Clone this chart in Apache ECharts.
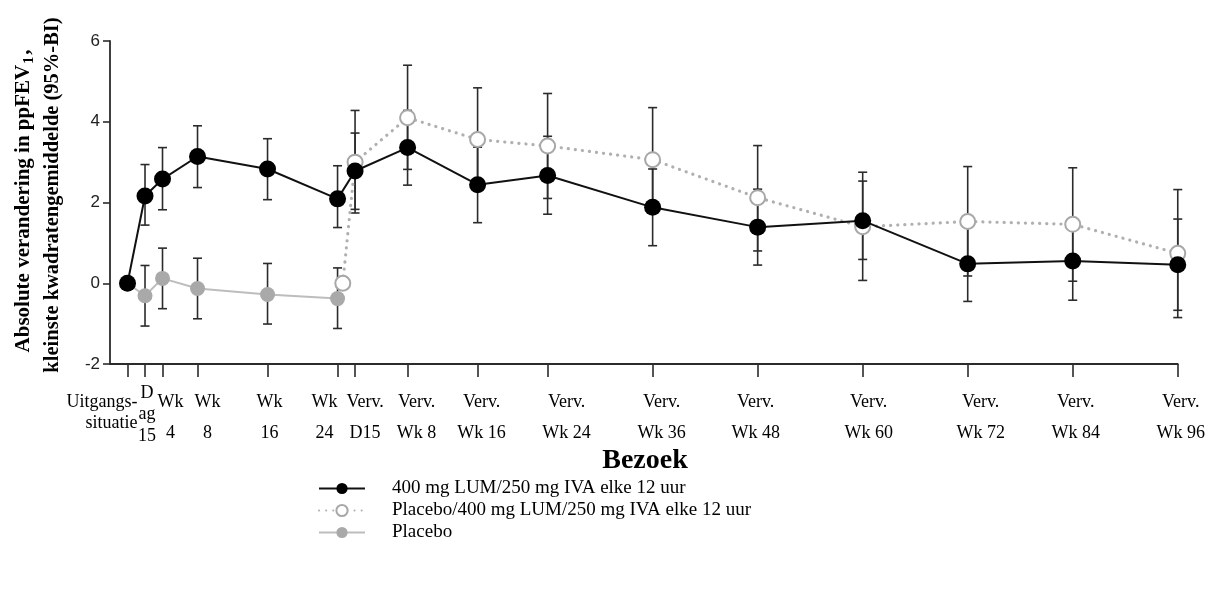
<!DOCTYPE html>
<html>
<head>
<meta charset="utf-8">
<script src="https://cdn.jsdelivr.net/npm/echarts@6/dist/echarts.min.js"></script>
<style>html,body{margin:0;padding:0;background:#fff;}#c{width:1208px;height:612px;}</style>
</head>
<body>
<div id="c"></div>
<script>
// Visit positions on the time axis (weeks since baseline)
const weeks = [0, 2, 4, 8, 16, 24, 26, 32, 40, 48, 60, 72, 84, 96, 108, 120];
const tickLabels = ['Uitgangs-\nsituatie', 'D\nag\n15', 'Wk\n4', 'Wk\n8', 'Wk\n16', 'Wk\n24',
  'Verv.\nD15', 'Verv.\nWk 8', 'Verv.\nWk 16', 'Verv.\nWk 24', 'Verv.\nWk 36', 'Verv.\nWk 48',
  'Verv.\nWk 60', 'Verv.\nWk 72', 'Verv.\nWk 84', 'Verv.\nWk 96'];
const yTicks = [-2, 0, 2, 4, 6];

const seriesNames = ['400 mg LUM/250 mg IVA elke 12 uur', 'Placebo/400 mg LUM/250 mg IVA elke 12 uur', 'Placebo'];

// 400 mg LUM/250 mg IVA
const lumMean = [0, 2.16, 2.58, 3.14, 2.83, 2.09, 2.78, 3.36, 2.44, 2.67, 1.88, 1.39, 1.55, 0.48, 0.55, 0.46];
const lumLow  = [null, 1.44, 1.82, 2.37, 2.07, 1.38, 1.83, 2.43, 1.50, 1.71, 0.93, 0.45, 0.59, -0.45, -0.42, -0.67];
const lumHigh = [null, 2.94, 3.36, 3.90, 3.58, 2.91, 3.72, 4.28, 3.37, 3.64, 2.83, 2.33, 2.53, 1.39, 1.44, 1.59];

// Placebo -> 400 mg LUM/250 mg IVA (extension); first point re-baselined at Wk 24
const switchWeeks = [24.6, 26, 32, 40, 48, 60, 72, 84, 96, 108, 120];
const switchMean = [0, 3.00, 4.10, 3.56, 3.40, 3.06, 2.12, 1.40, 1.53, 1.46, 0.74];
const switchLow  = [null, 1.74, 2.82, 2.28, 2.10, 1.77, 0.80, 0.07, 0.18, 0.05, -0.85];
const switchHigh = [null, 4.28, 5.40, 4.84, 4.70, 4.35, 3.41, 2.75, 2.89, 2.86, 2.32];

// Placebo
const plcMean = [0, -0.31, 0.12, -0.13, -0.28, -0.38];
const plcLow  = [null, -1.06, -0.63, -0.88, -1.01, -1.12];
const plcHigh = [null, 0.44, 0.87, 0.62, 0.49, 0.38];

// ---- styling (not data) ----
const SERIF = '"Liberation Serif", "Times New Roman", serif';
const SANS = '"Liberation Sans", Arial, sans-serif';
// horizontal nudge (px) of each tick label relative to its tick, as in the original layout
const labelNudge = [0, 2, 8, 10, 2, -13, 10, 9, 4, 19, 9, -2, 6, 13, 3, 3];

function pts(xs, ys) { return ys.map((v, i) => [xs[i], v]); }
function errs(xs, lo, hi) {
  const out = [];
  lo.forEach((l, i) => { if (l !== null && hi[i] !== null) out.push([xs[i], l, hi[i]]); });
  return out;
}
function errSeries(data, z) {
  return {
    type: 'custom', data: data, z: z, silent: true, legendHoverLink: false,
    encode: { x: 0, y: [1, 2] },
    renderItem: function (params, api) {
      const x = api.value(0);
      const lo = api.coord([x, api.value(1)]);
      const hi = api.coord([x, api.value(2)]);
      const w = 4.5;
      const st = { stroke: '#2b2b2b', lineWidth: 1.6, fill: null };
      return {
        type: 'group', children: [
          { type: 'line', shape: { x1: lo[0], y1: lo[1], x2: hi[0], y2: hi[1] }, style: st },
          { type: 'line', shape: { x1: lo[0] - w, y1: lo[1], x2: lo[0] + w, y2: lo[1] }, style: st },
          { type: 'line', shape: { x1: hi[0] - w, y1: hi[1], x2: hi[0] + w, y2: hi[1] }, style: st }
        ]
      };
    }
  };
}

const labelStyle = { fontFamily: SERIF, fontSize: 18, color: '#000' };
// build rich styles per label (line heights + nudges)
const rich = {};
tickLabels.forEach((t, i) => {
  const lines = t.split('\n');
  const lh = i === 0 ? [31, 10] : (lines.length === 3 ? [12, 30, 14] : [31, 31]);
  const n = labelNudge[i];
  lines.forEach((ln, j) => {
    let pad;
    if (i === 0) pad = [0, 51, 0, 0];
    else pad = n >= 0 ? [0, 0, 0, 2 * n] : [0, -2 * n, 0, 0];
    rich['t' + i + '_' + j] = Object.assign({ lineHeight: lh[j], padding: pad, align: i === 0 ? 'right' : 'center' }, labelStyle);
  });
});
function fmt(v) {
  const i = weeks.indexOf(v);
  if (i < 0) return ' ';
  return tickLabels[i].split('\n').map((ln, j) => '{t' + i + '_' + j + '|' + ln + '}').join('\n');
}

const axisCommon = {
  type: 'value', min: -2, max: 120, gridIndex: 0, position: 'bottom',
  splitLine: { show: false }
};

const chart = echarts.init(document.getElementById('c'), null, { renderer: 'canvas' });
chart.setOption({
  animation: false,
  backgroundColor: '#fff',
  grid: { left: 110, right: 28, top: 41, bottom: 248, containLabel: false },
  xAxis: [
    Object.assign({}, axisCommon, {
      axisLine: { show: true, onZero: false, lineStyle: { color: '#2b2b2b', width: 1.8 } },
      axisTick: { show: true, length: 13, customValues: weeks, lineStyle: { color: '#2b2b2b', width: 1.6 } },
      axisLabel: {
        show: true, margin: 23, customValues: [-2].concat(weeks.slice(1)), hideOverlap: false,
        formatter: fmt, rich: rich
      }
    }),
    Object.assign({}, axisCommon, {
      axisLine: { show: false, onZero: false },
      axisTick: { show: false },
      axisLabel: {
        show: true, margin: 23, customValues: weeks.slice(0, 1), hideOverlap: false,
        formatter: fmt, rich: rich
      }
    })
  ],
  yAxis: {
    type: 'value', min: -2, max: 6, interval: 2,
    splitLine: { show: false },
    axisLine: { show: true, onZero: false, lineStyle: { color: '#2b2b2b', width: 1.8 } },
    axisTick: { show: true, length: 7, lineStyle: { color: '#2b2b2b', width: 1.6 } },
    axisLabel: { margin: 10, fontFamily: SANS, fontSize: 17, color: '#222' }
  },
  legend: {
    orient: 'vertical', left: 313, top: 473, itemWidth: 46, itemHeight: 14, itemGap: 1,
    data: seriesNames,
    textStyle: { fontFamily: SERIF, fontSize: 19, color: '#000', lineHeight: 21, padding: [0, 0, 0, 22] }
  },
  graphic: [
    {
      type: 'text', x: 24, y: 201, rotation: Math.PI / 2,
      style: {
        text: '{m|Absolute verandering in ppFEV}{s|1}{m|,}',
        align: 'center', verticalAlign: 'middle',
        rich: {
          m: { font: 'bold 21px ' + SERIF, fill: '#000' },
          s: { font: 'bold 14px ' + SERIF, fill: '#000', padding: [10, 2, 0, 1] }
        }
      }
    },
    {
      type: 'text', x: 53, y: 195, rotation: Math.PI / 2,
      style: {
        text: 'kleinste kwadratengemiddelde (95%-BI)', font: 'bold 20.5px ' + SERIF,
        fill: '#000', align: 'center', verticalAlign: 'middle'
      }
    },
    {
      type: 'text', x: 645, y: 461,
      style: { text: 'Bezoek', font: 'bold 28px ' + SERIF, fill: '#000', align: 'center', verticalAlign: 'middle' }
    }
  ],
  series: [
    errSeries(errs(weeks, plcLow, plcHigh), 1),
    errSeries(errs(switchWeeks, switchLow, switchHigh), 1),
    errSeries(errs(weeks, lumLow, lumHigh), 1),
    {
      name: seriesNames[2], type: 'line', z: 3,
      data: pts(weeks, plcMean),
      symbol: 'circle', symbolSize: 15,
      itemStyle: { color: '#a9a9a9' },
      lineStyle: { color: '#bdbdbd', width: 2 }
    },
    {
      name: seriesNames[1], type: 'line', z: 4,
      data: pts(switchWeeks, switchMean),
      symbol: 'emptyCircle', symbolSize: 15,
      itemStyle: { color: '#a8a8a8', borderColor: '#a8a8a8', borderWidth: 2 },
      lineStyle: { color: '#b0b0b0', width: 3.2, type: [0.1, 7], cap: 'round' }
    },
    {
      name: seriesNames[0], type: 'line', z: 5,
      data: pts(weeks, lumMean),
      symbol: 'circle', symbolSize: 17,
      itemStyle: { color: '#000' },
      lineStyle: { color: '#111', width: 2 }
    }
  ]
});
</script>
</body>
</html>
